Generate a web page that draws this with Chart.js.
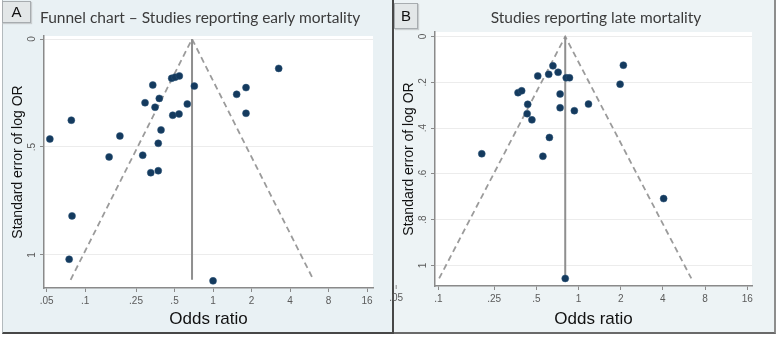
<!DOCTYPE html>
<html>
<head>
<meta charset="utf-8">
<script src="https://cdn.jsdelivr.net/npm/chart.js@4.4.1/dist/chart.umd.min.js"></script>
<style>
  * { box-sizing: border-box; }
  body { margin: 0; width: 781px; height: 337px; background: #fff; position: relative; overflow: hidden;
         font-family: "Liberation Sans", Arial, sans-serif; }
  .panel { position: absolute; top: 0; height: 334px; background: #e9f1f4; }
  #panelA { left: 2px; width: 392px; border-left: 1px solid #b3babd; border-right: 2px solid #474747; border-bottom: 2px solid #474747; }
  #panelB { left: 394px; width: 382px; background: #edf3f5; border-right: 2px solid #8d8d8d; border-bottom: 2px solid #6a6a6a; }
  .tag { position: absolute; background: #e3e7e8; border: 1px solid #a7acaf; box-shadow: 1px 1px 1px #c9cdcf;
         font-size: 15px; color: #111; text-align: center; }
  #tagA { left: 2px; top: 1px; width: 29px; height: 22px; line-height: 20px; }
  #tagB { left: 394px; top: 3px; width: 24px; height: 26px; line-height: 24px; }
  .title { position: absolute; font-family: Lato, "Open Sans", sans-serif; font-size: 15.5px; color: #3b3b3b; white-space: nowrap; }
  #titleA { left: 40px; top: 8px; }
  #titleB { left: 394px; width: 404px; top: 8px; text-align: center; }
  canvas { position: absolute; top: 0; }
  #chartA { left: 0; }
  #chartB { left: 390px; }
</style>
</head>
<body>
<div class="panel" id="panelA"></div>
<div class="panel" id="panelB"></div>
<canvas id="chartA" width="390" height="337"></canvas>
<canvas id="chartB" width="391" height="337"></canvas>
<div class="tag" id="tagA">A</div>
<div class="tag" id="tagB">B</div>
<div class="title" id="titleA">Funnel chart – Studies reporting early mortality</div>
<div class="title" id="titleB">Studies reporting late mortality</div>

<script>
// Panel A - early mortality
const orA = [0.053, 0.078, 0.187, 0.154, 0.079, 0.075, 0.294, 0.338, 0.380, 0.352, 0.392, 0.373, 0.282, 0.326,
             0.373, 0.475, 0.505, 0.545, 0.484, 0.542, 0.629, 0.714, 1.53, 1.81, 1.81, 3.26, 1.0];
const seA = [0.463, 0.376, 0.449, 0.546, 0.819, 1.02, 0.295, 0.213, 0.275, 0.316, 0.421, 0.483, 0.538, 0.619,
             0.610, 0.182, 0.177, 0.171, 0.353, 0.347, 0.301, 0.218, 0.256, 0.225, 0.344, 0.136, 1.12];
const pooledA = 0.685;
const seMaxA = 1.115;

// Panel B - late mortality
const orB = [0.204, 0.370, 0.393, 0.434, 0.430, 0.465, 0.512, 0.613, 0.657, 0.715, 0.739, 0.739, 0.817, 0.862,
             0.934, 1.178, 0.620, 0.557, 1.98, 2.09, 4.05, 0.804];
const seB = [0.512, 0.245, 0.237, 0.296, 0.337, 0.364, 0.172, 0.165, 0.128, 0.156, 0.251, 0.311, 0.180, 0.180,
             0.324, 0.295, 0.441, 0.523, 0.208, 0.125, 0.708, 1.057];
const pooledB = 0.804;
const seMaxB = 1.057;

// axis ticks
const xTicks = [0.05, 0.1, 0.25, 0.5, 1, 2, 4, 8, 16];
const xTickLabels = ['.05', '.1', '.25', '.5', '1', '2', '4', '8', '16'];
const yTicksA = [0, 0.5, 1];
const yTickLabelsA = ['0', '.5', '1'];
const yTicksB = [0, 0.2, 0.4, 0.6, 0.8, 1];
const yTickLabelsB = ['0', '.2', '.4', '.6', '.8', '1'];

const axisGrey = '#8a8a8a';
const labelGrey = '#5a5a5a';

const whiteArea = {
  id: 'whiteArea',
  beforeDraw(chart) {
    const a = chart.chartArea, ctx = chart.ctx;
    ctx.save();
    ctx.fillStyle = '#fff';
    ctx.fillRect(a.left, a.top, a.right - a.left, a.bottom - a.top);
    ctx.restore();
  }
};

// rotated y labels (Stata style) and x labels that fall left of the plot
const extraLabels = {
  id: 'extraLabels',
  afterDraw(chart, args, opts) {
    const ctx = chart.ctx, ys = chart.scales.y, xs = chart.scales.x;
    ctx.save();
    ctx.fillStyle = labelGrey;
    ctx.font = '10px "Liberation Sans", Arial';
    ctx.textAlign = 'center';
    ctx.textBaseline = 'middle';
    opts.yTicks.forEach((v, i) => {
      const py = ys.getPixelForValue(v);
      ctx.save();
      ctx.translate(opts.yLabelX, py);
      ctx.rotate(-Math.PI / 2);
      ctx.fillText(opts.yLabels[i], 0, 0);
      ctx.restore();
    });
    xTicks.forEach((v, i) => {
      if (v >= xs.min) return;
      const px = xs.getPixelForValue(v);
      ctx.strokeStyle = axisGrey;
      ctx.lineWidth = 1;
      ctx.beginPath();
      ctx.moveTo(px, xs.top - 1);
      ctx.lineTo(px, xs.top + 3);
      ctx.stroke();
      ctx.fillText(xTickLabels[i], px, xs.top + 12);
    });
    ctx.restore();
  }
};

function makeFunnel(id, or, se, pooled, seMax, cfg) {
  const pts = or.map((v, i) => ({ x: v, y: se[i] }));
  const lo = pooled * Math.exp(-1.96 * seMax);
  const hi = pooled * Math.exp(1.96 * seMax);
  return new Chart(document.getElementById(id), {
    type: 'scatter',
    data: {
      datasets: [
        {
          data: pts,
          backgroundColor: '#143a5e',
          borderColor: '#2c5478',
          borderWidth: 0.5,
          pointRadius: 3.5,
          order: 0,
        },
        {
          data: [{ x: lo, y: seMax }, { x: pooled, y: 0 }, { x: hi, y: seMax }],
          showLine: true,
          borderColor: '#9b9b9b',
          borderWidth: 1.8,
          borderDash: [6, 4],
          pointRadius: 0,
          order: 2,
        },
        {
          data: [{ x: pooled, y: 0 }, { x: pooled, y: seMax }],
          showLine: true,
          borderColor: '#8f8f8f',
          borderWidth: 2,
          pointRadius: 0,
          order: 1,
        },
      ]
    },
    options: {
      responsive: false,
      animation: false,
      devicePixelRatio: 1,
      layout: { padding: cfg.padding },
      plugins: {
        legend: { display: false },
        tooltip: { enabled: false },
        extraLabels: { yTicks: cfg.yTicks, yLabels: cfg.yLabels, yLabelX: cfg.yLabelX },
      },
      scales: {
        x: {
          type: 'logarithmic',
          min: cfg.xMin,
          max: cfg.xMax,
          afterBuildTicks: (s) => {
            s.ticks = xTicks.filter(v => v >= s.min && v <= s.max).map(v => ({ value: v }));
          },
          afterFit: (s) => { s.height = cfg.xHeight; },
          border: { color: axisGrey, width: 1.5 },
          grid: { drawOnChartArea: false, tickLength: 4, tickColor: axisGrey },
          ticks: {
            autoSkip: false, maxRotation: 0, padding: 3, color: labelGrey,
            font: { family: '"Liberation Sans", Arial', size: 10 },
            callback: (v) => xTickLabels[xTicks.indexOf(v)],
          },
          title: {
            display: true, text: 'Odds ratio', color: '#111',
            font: { family: '"Liberation Sans", Arial', size: 17 },
            padding: { top: 0, bottom: 7 },
          },
        },
        y: {
          reverse: true,
          min: cfg.yMin,
          max: cfg.yMax,
          afterBuildTicks: (s) => { s.ticks = cfg.yTicks.map(v => ({ value: v })); },
          afterFit: (s) => { s.width = cfg.yWidth; },
          border: { color: axisGrey, width: 1.5 },
          grid: { color: '#ececec', lineWidth: 1, tickLength: 4, tickColor: axisGrey },
          ticks: { display: false },
          title: {
            display: true, text: 'Standard error of log OR', color: '#111',
            font: { family: '"Liberation Sans", Arial', size: 14 },
            padding: { top: cfg.yTitlePad, bottom: 0 },
          },
        }
      }
    },
    plugins: [whiteArea, extraLabels]
  });
}

makeFunnel('chartA', orA, seA, pooledA, seMaxA, {
  padding: { left: 0, right: 17, top: 36, bottom: 0 },
  xMin: 0.0477, xMax: 17.8, xHeight: 49,
  yMin: -0.014, yMax: 1.153, yWidth: 44, yTitlePad: 10,
  yTicks: yTicksA, yLabels: yTickLabelsA, yLabelX: 32,
});

makeFunnel('chartB', orB, seB, pooledB, seMaxB, {
  padding: { left: 0, right: 29, top: 32, bottom: 0 },
  xMin: 0.0946, xMax: 17.3, xHeight: 51,
  yMin: -0.02, yMax: 1.09, yWidth: 45, yTitlePad: 11,
  yTicks: yTicksB, yLabels: yTickLabelsB, yLabelX: 33,
});
</script>
</body>
</html>
